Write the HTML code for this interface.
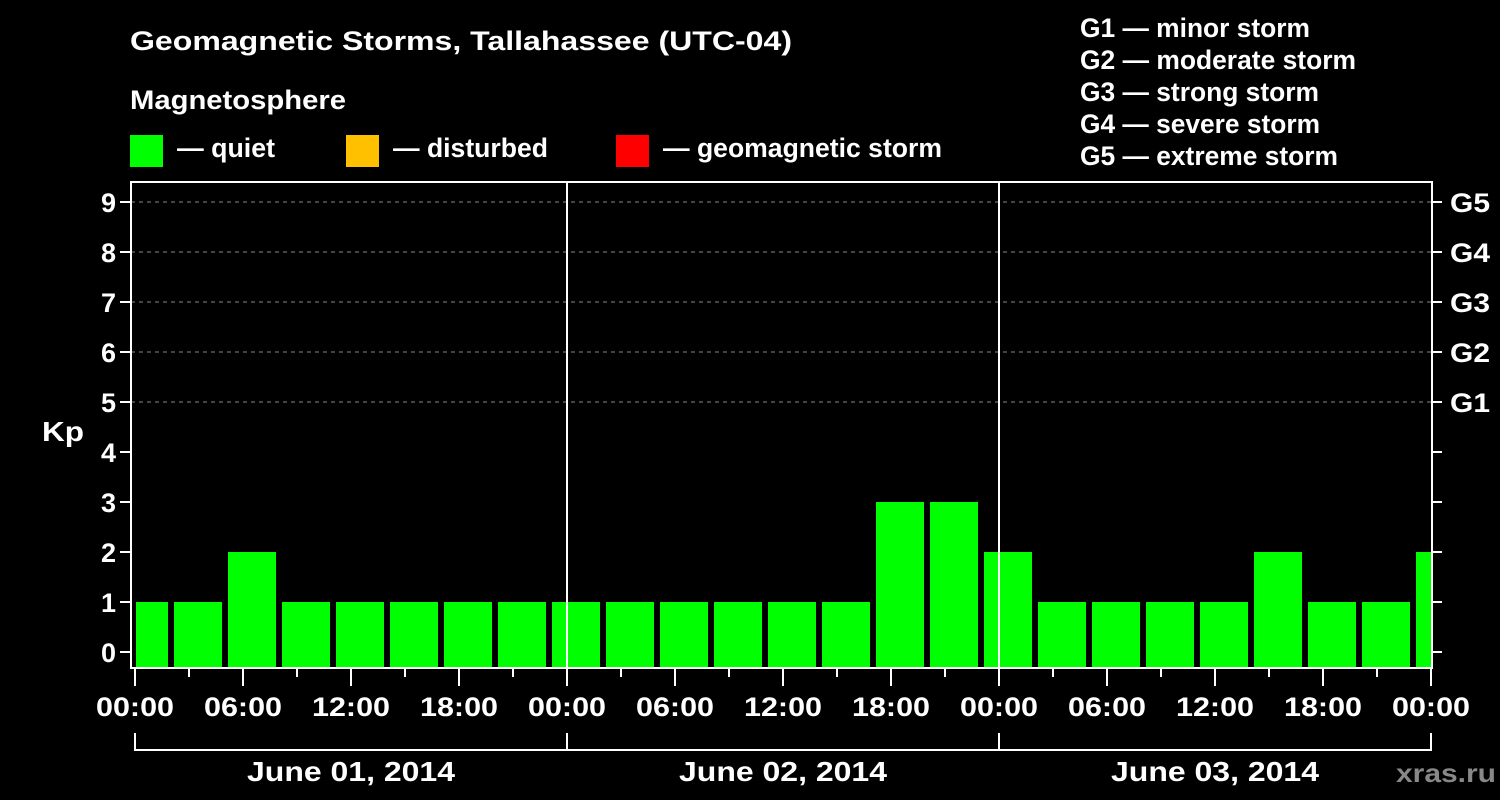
<!DOCTYPE html>
<html><head><meta charset="utf-8"><style>
body{margin:0;background:#000;}
svg{display:block;font-family:"Liberation Sans",Arial,sans-serif;font-weight:bold;}
</style></head><body>
<svg width="1500" height="800" viewBox="0 0 1500 800">
<rect width="1500" height="800" fill="#000"/>
<text x="130" y="50" fill="#fff" font-size="27" textLength="662" lengthAdjust="spacingAndGlyphs">Geomagnetic Storms, Tallahassee (UTC-04)</text>
<text x="130" y="109" fill="#fff" font-size="27" textLength="216" lengthAdjust="spacingAndGlyphs">Magnetosphere</text>
<g><rect x="130" y="135" width="33" height="32" fill="#00ff00"/><text x="177" y="157" fill="#fff" font-size="27" textLength="98" lengthAdjust="spacingAndGlyphs">— quiet</text></g>
<g><rect x="346" y="135" width="33" height="32" fill="#ffc000"/><text x="393" y="157" fill="#fff" font-size="27" textLength="155" lengthAdjust="spacingAndGlyphs">— disturbed</text></g>
<g><rect x="616" y="135" width="33" height="32" fill="#ff0000"/><text x="663" y="157" fill="#fff" font-size="27" textLength="279" lengthAdjust="spacingAndGlyphs">— geomagnetic storm</text></g>
<g fill="#fff" font-size="27" lengthAdjust="spacingAndGlyphs">
<text x="1080" y="37" textLength="230" lengthAdjust="spacingAndGlyphs">G1 — minor storm</text>
<text x="1080" y="69" textLength="276" lengthAdjust="spacingAndGlyphs">G2 — moderate storm</text>
<text x="1080" y="101" textLength="239" lengthAdjust="spacingAndGlyphs">G3 — strong storm</text>
<text x="1080" y="133" textLength="240" lengthAdjust="spacingAndGlyphs">G4 — severe storm</text>
<text x="1080" y="165" textLength="258" lengthAdjust="spacingAndGlyphs">G5 — extreme storm</text>
</g>
<text x="42" y="441" fill="#fff" font-size="28" textLength="42" lengthAdjust="spacingAndGlyphs">Kp</text>
<text x="1496" y="782" fill="#888" font-size="26" text-anchor="end" textLength="100" lengthAdjust="spacingAndGlyphs">xras.ru</text>
<g id="grid"></g>
<g id="bars"></g>
<g id="axes"></g>
</svg>
<script>
const kpValues=[1,1,2,1,1,1,1,1, 1,1,1,1,1,1,3,3, 2,1,1,1,1,2,1,1, 2];
const dayLabels=["June 01, 2014","June 02, 2014","June 03, 2014"];
const hourLabels=["00:00","06:00","12:00","18:00"];
const yTicks=[0,1,2,3,4,5,6,7,8,9];
const gLabels=["G1","G2","G3","G4","G5"];
const NS="http://www.w3.org/2000/svg";
const L=131,R=1432,T=182,B=668,X0=135;
const xH=h=>X0+h*18;
const yV=v=>652-v*50;
function mk(tag,attrs,parent,txt){const e=document.createElementNS(NS,tag);for(const k in attrs)e.setAttribute(k,attrs[k]);if(txt!==undefined)e.textContent=txt;parent.appendChild(e);return e;}
const grid=document.getElementById('grid'),bars=document.getElementById('bars'),axes=document.getElementById('axes');
yTicks.forEach(v=>{
 if(v>=5){const g=mk('line',{x1:L,x2:R,y1:yV(v),y2:yV(v),stroke:'#888','stroke-dasharray':'4,4','stroke-width':1},grid);
 
 }
 const t=mk('line',{x1:120,x2:L,y1:yV(v),y2:yV(v),stroke:'#fff','stroke-width':2},axes);
 
 
 const lb=mk('text',{x:116,y:yV(v)+10,fill:'#fff','font-size':27,'text-anchor':'end'},axes,String(v));
 
 
 const rt=mk('line',{x1:R,x2:1442,y1:yV(v),y2:yV(v),stroke:'#fff','stroke-width':2},axes);
 
 
});
gLabels.forEach((g,i)=>{const lb=mk('text',{x:1450,y:yV(5+i)+10,fill:'#fff','font-size':27,textLength:40,lengthAdjust:'spacingAndGlyphs'},axes,g);
 
 });
kpValues.forEach((v,i)=>{
 const c=xH(0.5+3*i);let x1=Math.max(c-24,L+5),x2=Math.min(c+24,R-1);
 const col=v>=5?'#ff0000':(v>=4?'#ffc000':'#00ff00');
 const b=mk('rect',{x:x1,y:yV(v),width:x2-x1,height:B-yV(v),fill:col},bars);
 
 
});
[1,2].forEach(d=>{const l=mk('line',{x1:xH(24*d),x2:xH(24*d),y1:T,y2:B,stroke:'#fff','stroke-width':2},axes);
 
 });
const fr=mk('rect',{x:L,y:T,width:R-L,height:B-T,fill:'none',stroke:'#fff','stroke-width':2},axes);


for(let h=0;h<=72;h+=3){const major=h%6===0;
 const t=mk('line',{x1:xH(h),x2:xH(h),y1:B,y2:major?686:677,stroke:'#fff','stroke-width':2},axes);
 
 
 if(major){const lb=mk('text',{x:xH(h)-39,y:716,fill:'#fff','font-size':27,textLength:78,lengthAdjust:'spacingAndGlyphs'},axes,hourLabels[(h/6)%4]);
 
 }}
dayLabels.forEach((d,i)=>{
 const p=mk('path',{d:`M${xH(24*i)},733V750H${xH(24*i+24)}V733`,fill:'none',stroke:'#fff','stroke-width':2},axes);
 
 
 const lb=mk('text',{x:xH(24*i+12)-104,y:781,fill:'#fff','font-size':28,textLength:208,lengthAdjust:'spacingAndGlyphs'},axes,d);
 
 
});
</script>
</body></html>
